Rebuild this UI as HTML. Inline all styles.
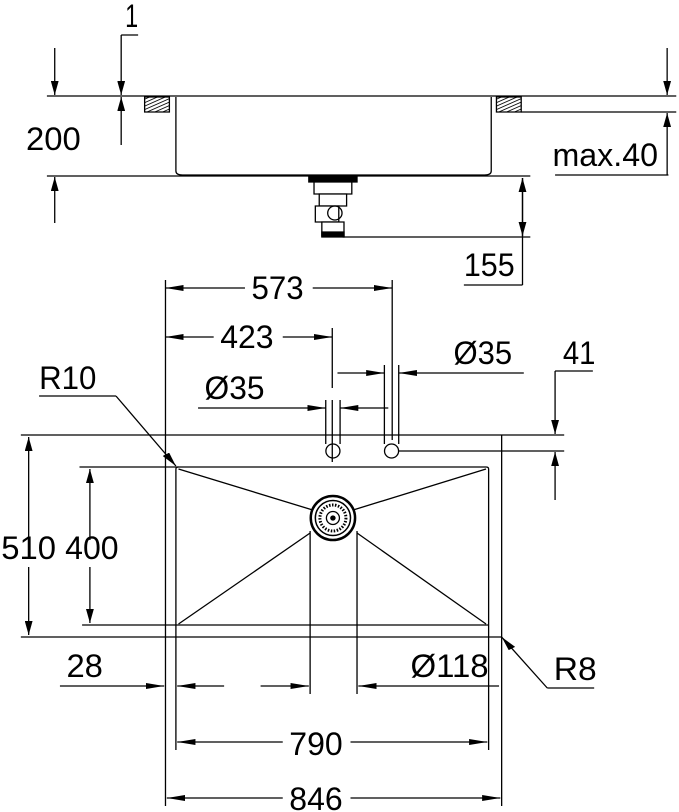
<!DOCTYPE html>
<html><head><meta charset="utf-8"><style>
html,body{margin:0;padding:0;background:#fff;}
svg{display:block;}
text{font-family:"Liberation Sans",sans-serif;font-size:32px;fill:#000;}
line,path,rect,circle,ellipse{vector-effect:non-scaling-stroke;}
</style></head><body>
<svg width="679" height="812" viewBox="0 0 679 812" xmlns="http://www.w3.org/2000/svg">
<defs>
<marker id="a" viewBox="0 0 14 6" refX="14" refY="3" markerWidth="14" markerHeight="6" markerUnits="userSpaceOnUse" orient="auto"><path d="M0,0 L14,3 L0,6 z" fill="#000"/></marker>
<pattern id="h" width="3" height="3" patternUnits="userSpaceOnUse" patternTransform="rotate(60)"><rect width="3" height="3" fill="#fff"/><line x1="0" y1="0" x2="0" y2="3" stroke="#000" stroke-width="1.6"/></pattern>
</defs>
<g transform="scale(1.303,1)">
<g stroke="#000" stroke-width="1.3" fill="none">
<line x1="36" y1="96" x2="519" y2="96"/>
<line x1="36" y1="176" x2="407" y2="176"/>
<line x1="400" y1="112" x2="519" y2="112"/>
<rect x="111" y="97" width="19" height="15" fill="url(#h)"/>
<rect x="381" y="97" width="19" height="15" fill="url(#h)"/>
<path d="M135,97 V171 Q135,175 140,175 H372 Q377,175 377,171 V97"/>
<line x1="93" y1="35" x2="106" y2="35"/>
<line x1="93" y1="35" x2="93" y2="95" marker-end="url(#a)"/>
<line x1="93" y1="145" x2="93" y2="97" marker-end="url(#a)"/>
<line x1="42" y1="48" x2="42" y2="95" marker-end="url(#a)"/>
<line x1="42" y1="223" x2="42" y2="177" marker-end="url(#a)"/>
<line x1="512" y1="48" x2="512" y2="95" marker-end="url(#a)"/>
<line x1="512" y1="175" x2="512" y2="113" marker-end="url(#a)"/>
<line x1="426" y1="175" x2="513" y2="175"/>
<line x1="401" y1="237" x2="401" y2="178" marker-end="url(#a)"/>
<line x1="401" y1="178" x2="401" y2="236" marker-end="url(#a)"/>
<line x1="401" y1="237" x2="401" y2="285"/>
<line x1="356" y1="285" x2="401" y2="285"/>
<line x1="263" y1="237" x2="407" y2="237"/>
<rect x="237" y="177" width="37" height="5" fill="#000"/>
<rect x="241" y="182" width="29" height="12" fill="#fff"/>
<rect x="245" y="194" width="21" height="12" fill="#fff"/>
<rect x="242" y="206" width="18" height="16" fill="#fff"/>
<ellipse cx="257" cy="213" rx="5.5" ry="7"/>
<rect x="247" y="222" width="17" height="14" fill="#fff"/>
<rect x="247" y="232" width="17" height="5" fill="#000"/>
<line x1="188" y1="288" x2="127" y2="288" marker-end="url(#a)"/>
<line x1="240" y1="288" x2="301" y2="288" marker-end="url(#a)"/>
<line x1="127" y1="280" x2="127" y2="806"/>
<line x1="301" y1="280" x2="301" y2="440"/>
<line x1="164" y1="337" x2="127" y2="337" marker-end="url(#a)"/>
<line x1="217" y1="337" x2="255" y2="337" marker-end="url(#a)"/>
<line x1="255" y1="328" x2="255" y2="388"/>
<line x1="259" y1="373" x2="295" y2="373" marker-end="url(#a)"/>
<line x1="402" y1="373" x2="306" y2="373" marker-end="url(#a)"/>
<line x1="152" y1="408" x2="250" y2="408" marker-end="url(#a)"/>
<line x1="298" y1="408" x2="261" y2="408" marker-end="url(#a)"/>
<line x1="250" y1="400" x2="250" y2="444"/><line x1="261" y1="400" x2="261" y2="444"/>
<line x1="295" y1="365" x2="295" y2="444"/><line x1="306" y1="365" x2="306" y2="444"/>
<line x1="255" y1="400" x2="255" y2="462"/>
<ellipse cx="255.5" cy="451" rx="5.4" ry="7"/><ellipse cx="300.5" cy="451" rx="5.4" ry="7"/>
<line x1="306" y1="451" x2="433" y2="451"/>
<line x1="426" y1="371" x2="455" y2="371"/>
<line x1="426" y1="371" x2="426" y2="434" marker-end="url(#a)"/>
<line x1="426" y1="500" x2="426" y2="452" marker-end="url(#a)"/>
<line x1="16" y1="435" x2="433" y2="435"/>
<line x1="385" y1="435" x2="385" y2="806"/>
<line x1="16" y1="637" x2="385" y2="637"/>
<line x1="22" y1="540" x2="22" y2="437" marker-end="url(#a)"/>
<line x1="22" y1="567" x2="22" y2="635" marker-end="url(#a)"/>
<line x1="61" y1="467" x2="373" y2="467"/>
<line x1="63" y1="625" x2="375" y2="625"/>
<path d="M135,750 V469 Q135,467 137,467"/>
<path d="M373,467 Q375,467 375,469 V750"/>
<line x1="69" y1="540" x2="69" y2="469" marker-end="url(#a)"/>
<line x1="69" y1="567" x2="69" y2="623" marker-end="url(#a)"/>
<line x1="137" y1="469" x2="240" y2="510"/>
<line x1="373" y1="469" x2="271" y2="510"/>
<line x1="137" y1="624" x2="238" y2="533"/>
<line x1="373" y1="624" x2="274" y2="533"/>
<line x1="238" y1="531" x2="238" y2="694"/>
<line x1="274" y1="531" x2="274" y2="694"/>
<ellipse cx="255.5" cy="518" rx="17" ry="22" stroke-width="2.5"/>
<ellipse cx="255.5" cy="518" rx="13.5" ry="17.5" stroke-width="1.5"/>
<ellipse cx="255.5" cy="518" rx="10" ry="13" stroke-dasharray="1.5 1.5" stroke-width="3"/>
<ellipse cx="255.5" cy="518" rx="5" ry="6.5"/>
<ellipse cx="255.5" cy="518" rx="1.6" ry="2" fill="#000"/>
<line x1="46" y1="686" x2="126" y2="686" marker-end="url(#a)"/>
<line x1="172" y1="686" x2="136" y2="686" marker-end="url(#a)"/>
<line x1="200" y1="686" x2="237" y2="686" marker-end="url(#a)"/>
<line x1="383" y1="686" x2="275" y2="686" marker-end="url(#a)"/>
<line x1="456" y1="688" x2="420" y2="688"/>
<line x1="420" y1="688" x2="385" y2="637" marker-end="url(#a)"/>
<line x1="30" y1="396" x2="89" y2="396"/>
<line x1="89" y1="396" x2="135" y2="466" marker-end="url(#a)"/>
<line x1="217" y1="742" x2="136" y2="742" marker-end="url(#a)"/>
<line x1="269" y1="742" x2="374" y2="742" marker-end="url(#a)"/>
<line x1="217" y1="798" x2="128" y2="798" marker-end="url(#a)"/>
<line x1="269" y1="798" x2="384" y2="798" marker-end="url(#a)"/>
</g>
<text x="96" y="27" textLength="10" lengthAdjust="spacingAndGlyphs">1</text>
<text x="20" y="150" textLength="42" lengthAdjust="spacingAndGlyphs">200</text>
<text x="424" y="166" textLength="81" lengthAdjust="spacingAndGlyphs">max.40</text>
<text x="356" y="276" textLength="39" lengthAdjust="spacingAndGlyphs">155</text>
<text x="193" y="299" textLength="40" lengthAdjust="spacingAndGlyphs">573</text>
<text x="169" y="348" textLength="41" lengthAdjust="spacingAndGlyphs">423</text>
<text x="348" y="364" textLength="45" lengthAdjust="spacingAndGlyphs">Ø35</text>
<text x="432" y="364" textLength="25" lengthAdjust="spacingAndGlyphs">41</text>
<text x="30" y="389" textLength="44" lengthAdjust="spacingAndGlyphs">R10</text>
<text x="157" y="399" textLength="46" lengthAdjust="spacingAndGlyphs">Ø35</text>
<text x="1" y="559" textLength="42" lengthAdjust="spacingAndGlyphs">510</text>
<text x="50" y="559" textLength="41" lengthAdjust="spacingAndGlyphs">400</text>
<text x="51" y="677" textLength="28" lengthAdjust="spacingAndGlyphs">28</text>
<text x="315" y="677" textLength="60" lengthAdjust="spacingAndGlyphs">Ø118</text>
<text x="425" y="680" textLength="33" lengthAdjust="spacingAndGlyphs">R8</text>
<text x="222" y="755" textLength="41" lengthAdjust="spacingAndGlyphs">790</text>
<text x="222" y="810" textLength="41" lengthAdjust="spacingAndGlyphs">846</text>
</g>
</svg>
</body></html>
